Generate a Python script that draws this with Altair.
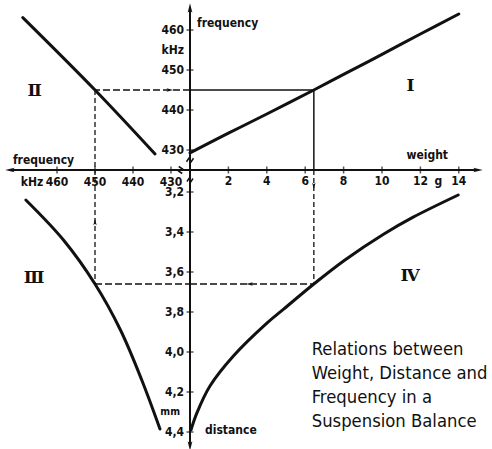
import altair as alt
import pandas as pd

INK = "#111111"
LABEL_FONT = "DejaVu Sans Condensed, DejaVu Sans, sans-serif"
NUMERAL_FONT = "DejaVu Serif, Liberation Serif, serif"

# ---- curves ---------------------------------------------------------------
# I: resonance frequency (kHz) against weight on the balance (g)
weight_I = [0, 2, 4, 6.45, 8, 10, 12, 14]
freq_I = [429.3, 434.2, 439.0, 445.0, 448.9, 453.9, 459.0, 464.0]

# II: transfer line between the vertical and the horizontal frequency axis
freq_II_h = [434.2, 450.0, 469.0]
freq_II_v = [429.0, 445.0, 463.1]

# III: electrode distance (mm) against frequency (kHz)
freq_III = [468.2, 458.3, 450.0, 443.3, 437.7, 432.9]
dist_III = [3.24, 3.44, 3.66, 3.89, 4.14, 4.385]

# IV: electrode distance (mm) against weight (g)
weight_IV = [0.05, 0.35, 1.04, 2.26, 3.99, 4.86, 6.45, 8.07, 10.1, 11.6, 13.97]
dist_IV = [4.39, 4.307, 4.17, 4.02, 3.857, 3.787, 3.66, 3.54, 3.41, 3.327, 3.215]

# worked example traced round the four quadrants
ex_weight = 6.45
ex_freq_v = 445
ex_freq_h = 450
ex_dist = 3.66

# ---- axes -----------------------------------------------------------------
freq_ticks = [430, 440, 450, 460]
weight_ticks = [2, 4, 6, 8, 10, 12, 14]
dist_ticks = [3.2, 3.4, 3.6, 3.8, 4.0, 4.2, 4.4]
dist_labels = ["3,2", "3,4", "3,6", "3,8", "4,0", "4,2", "4,4"]

# the broken axes cross at these values
freq_origin = 425
dist_origin = 3.09
# arrow tips at the ends of the axes
weight_end = 15.0
freq_v_end = 465.5
freq_h_end = 472.4
dist_end = 4.47

note_lines = ["Relations between", "Weight, Distance and",
              "Frequency in a", "Suspension Balance"]
note_w, note_d = 6.34, 4.015


def sc(domain, reverse=False):
    return alt.Scale(domain=domain, nice=False, zero=False, reverse=reverse)


# one scale per quantity; all share the same drawing area
SCALES = {
    "w": sc([-9.896, 15.729]),            # weight, to the right
    "fh": sc([345.53, 475.0], True),      # frequency, to the left
    "fv": sc([355.25, 467.5]),            # frequency, upwards
    "d": sc([2.24, 4.485], True),         # distance, downwards
}

ARROW = "M0,-1L0.5,1L0,0.55L-0.5,1Z"
ZIGZAG = "M-1,0.5L-0.35,-0.5L0.35,0.5L1,-0.5"


def pos(xs, ys, **extra):
    enc = {
        "x": alt.X("x:Q", scale=SCALES[xs], axis=None),
        "y": alt.Y("y:Q", scale=SCALES[ys], axis=None),
    }
    enc.update(extra)
    return enc


def curve(xs, ys, xv, yv):
    df = pd.DataFrame({"x": xv, "y": yv, "i": list(range(len(xv)))})
    return alt.Chart(df).mark_line(
        color=INK, strokeWidth=3, interpolate="catmull-rom", strokeCap="round"
    ).encode(**pos(xs, ys, order=alt.Order("i:Q")))


def segment(xs, ys, x, x2, y, y2, dash=None, width=1.3):
    df = pd.DataFrame({"x": [x], "x2": [x2], "y": [y], "y2": [y2]})
    kw = dict(color=INK, strokeWidth=width)
    if dash:
        kw["strokeDash"] = dash
    return alt.Chart(df).mark_rule(**kw).encode(
        **pos(xs, ys, x2=alt.X2("x2:Q"), y2=alt.Y2("y2:Q")))


def ticks(xs, ys, xv, yv, orient):
    df = pd.DataFrame({"x": xv, "y": yv})
    return alt.Chart(df).mark_tick(
        orient=orient, size=7, thickness=1.5, color=INK
    ).encode(**pos(xs, ys))


def labels(xs, ys, xv, yv, texts, **mk):
    df = pd.DataFrame({"x": xv, "y": yv, "t": texts})
    style = dict(font=LABEL_FONT, fontSize=12, fontWeight="bold", color=INK)
    style.update(mk)
    return alt.Chart(df).mark_text(**style).encode(**pos(xs, ys, text=alt.Text("t:N")))


def symbols(xs, ys, xv, yv, angles, shape, size, filled=True):
    df = pd.DataFrame({"x": xv, "y": yv, "a": angles})
    kw = dict(shape=shape, size=size, color=INK, opacity=1, filled=filled)
    kw["strokeWidth"] = 0 if filled else 1.5
    return alt.Chart(df).mark_point(**kw).encode(
        **pos(xs, ys, angle=alt.Angle("a:Q", scale=None)))


n = len
layers = [
    # axis lines
    segment("w", "fv", 0, weight_end, freq_origin, freq_origin, width=2),
    segment("fh", "fv", freq_h_end, freq_origin, freq_origin, freq_origin, width=2),
    segment("w", "fv", 0, 0, freq_origin, freq_v_end, width=2),
    segment("w", "d", 0, 0, dist_origin, dist_end, width=2),
    # ticks
    ticks("w", "fv", [0] * n(freq_ticks), freq_ticks, "horizontal"),
    ticks("fh", "fv", freq_ticks, [freq_origin] * n(freq_ticks), "vertical"),
    ticks("w", "fv", weight_ticks, [freq_origin] * n(weight_ticks), "vertical"),
    ticks("w", "d", [0] * n(dist_ticks), dist_ticks, "horizontal"),
    # axis-end arrows and break marks
    symbols("w", "fv", [0, weight_end], [freq_v_end, freq_origin], [0, 90], ARROW, 90),
    symbols("fh", "fv", [freq_h_end], [freq_origin], [270], ARROW, 90),
    symbols("w", "d", [0], [dist_end], [180], ARROW, 90),
    symbols("w", "fv", [0], [427.5], [0], ZIGZAG, 49, filled=False),
    symbols("fh", "fv", [427.5], [freq_origin], [90], ZIGZAG, 49, filled=False),
    symbols("w", "d", [0], [3.14], [0], ZIGZAG, 36, filled=False),
    # worked example
    segment("w", "fv", 0, ex_weight, ex_freq_v, ex_freq_v, width=1.5),
    segment("w", "fv", ex_weight, ex_weight, freq_origin, ex_freq_v, width=1.5),
    segment("fh", "fv", freq_origin, ex_freq_h, ex_freq_v, ex_freq_v, dash=[7, 3]),
    segment("fh", "fv", ex_freq_h, ex_freq_h, ex_freq_v, freq_origin, dash=[5, 3]),
    segment("fh", "d", ex_freq_h, ex_freq_h, dist_origin, ex_dist, dash=[5, 3]),
    segment("fh", "d", ex_freq_h, freq_origin, ex_dist, ex_dist, dash=[7, 3]),
    segment("w", "d", 0, ex_weight, ex_dist, ex_dist, dash=[7, 3]),
    segment("w", "d", ex_weight, ex_weight, dist_origin, ex_dist, dash=[5, 3]),
    symbols("fh", "fv", [430.3], [ex_freq_v], [90], ARROW, 45),
    symbols("fh", "d", [ex_freq_h], [3.35], [0], ARROW, 45),
    symbols("w", "d", [3.1], [ex_dist], [270], ARROW, 45),
    symbols("w", "d", [ex_weight], [3.17], [180], ARROW, 45),
    # curves
    curve("w", "fv", weight_I, freq_I),
    curve("fh", "fv", freq_II_h, freq_II_v),
    curve("fh", "d", freq_III, dist_III),
    curve("w", "d", weight_IV, dist_IV),
    # tick labels
    labels("w", "fv", [0] * n(freq_ticks), freq_ticks, [str(v) for v in freq_ticks],
           align="right", dx=-6),
    labels("w", "fv", [0], [455], ["kHz"], align="right", dx=-6),
    labels("fh", "fv", freq_ticks, [freq_origin] * n(freq_ticks),
           [str(v) for v in freq_ticks], dy=12),
    labels("fh", "fv", [460], [freq_origin], ["kHz"], dy=12, dx=-25),
    labels("w", "fv", weight_ticks, [freq_origin] * n(weight_ticks),
           [str(v) for v in weight_ticks], dy=11),
    labels("w", "fv", [12], [freq_origin], ["g"], dy=11, dx=18),
    labels("w", "d", [0] * n(dist_ticks), dist_ticks, dist_labels, align="right", dx=-6),
    labels("w", "d", [0], [4.3], ["mm"], align="right", dx=-10, fontSize=10.5),
    # axis titles
    labels("w", "fv", [0], [freq_v_end], ["frequency"], align="left", dx=7, dy=15),
    labels("fh", "fv", [freq_h_end], [freq_origin], ["frequency"], align="left", dx=3, dy=-10),
    labels("w", "fv", [12], [freq_origin], ["weight"], align="left", dx=-14, dy=-15),
    labels("w", "d", [0], [4.39], ["distance"], align="left", dx=15),
    # quadrant numerals
    labels("w", "fv", [11.48], [446], ["Ⅰ"], font=NUMERAL_FONT, fontSize=17),
    labels("fh", "fv", [465.9], [444.75], ["Ⅱ"], font=NUMERAL_FONT, fontSize=17),
    labels("fh", "d", [466.0], [3.63], ["Ⅲ"], font=NUMERAL_FONT, fontSize=17),
    labels("w", "d", [11.46], [3.62], ["Ⅳ"], font=NUMERAL_FONT, fontSize=17),
    # caption
    alt.Chart(pd.DataFrame({"x": [note_w], "y": [note_d]})).mark_text(
        text=note_lines, align="left", baseline="alphabetic", lineHeight=24,
        font=LABEL_FONT, fontSize=18.3, color=INK,
    ).encode(**pos("w", "d")),
]

chart = (
    alt.layer(*layers)
    .resolve_scale(x="independent", y="independent")
    .properties(
        width=492, height=449, padding=0, background="white",
        autosize=alt.AutoSizeParams(type="none"),
    )
    .configure_view(stroke=None)
)

chart.save("out.html", embed_options={"renderer": "svg", "actions": False})
